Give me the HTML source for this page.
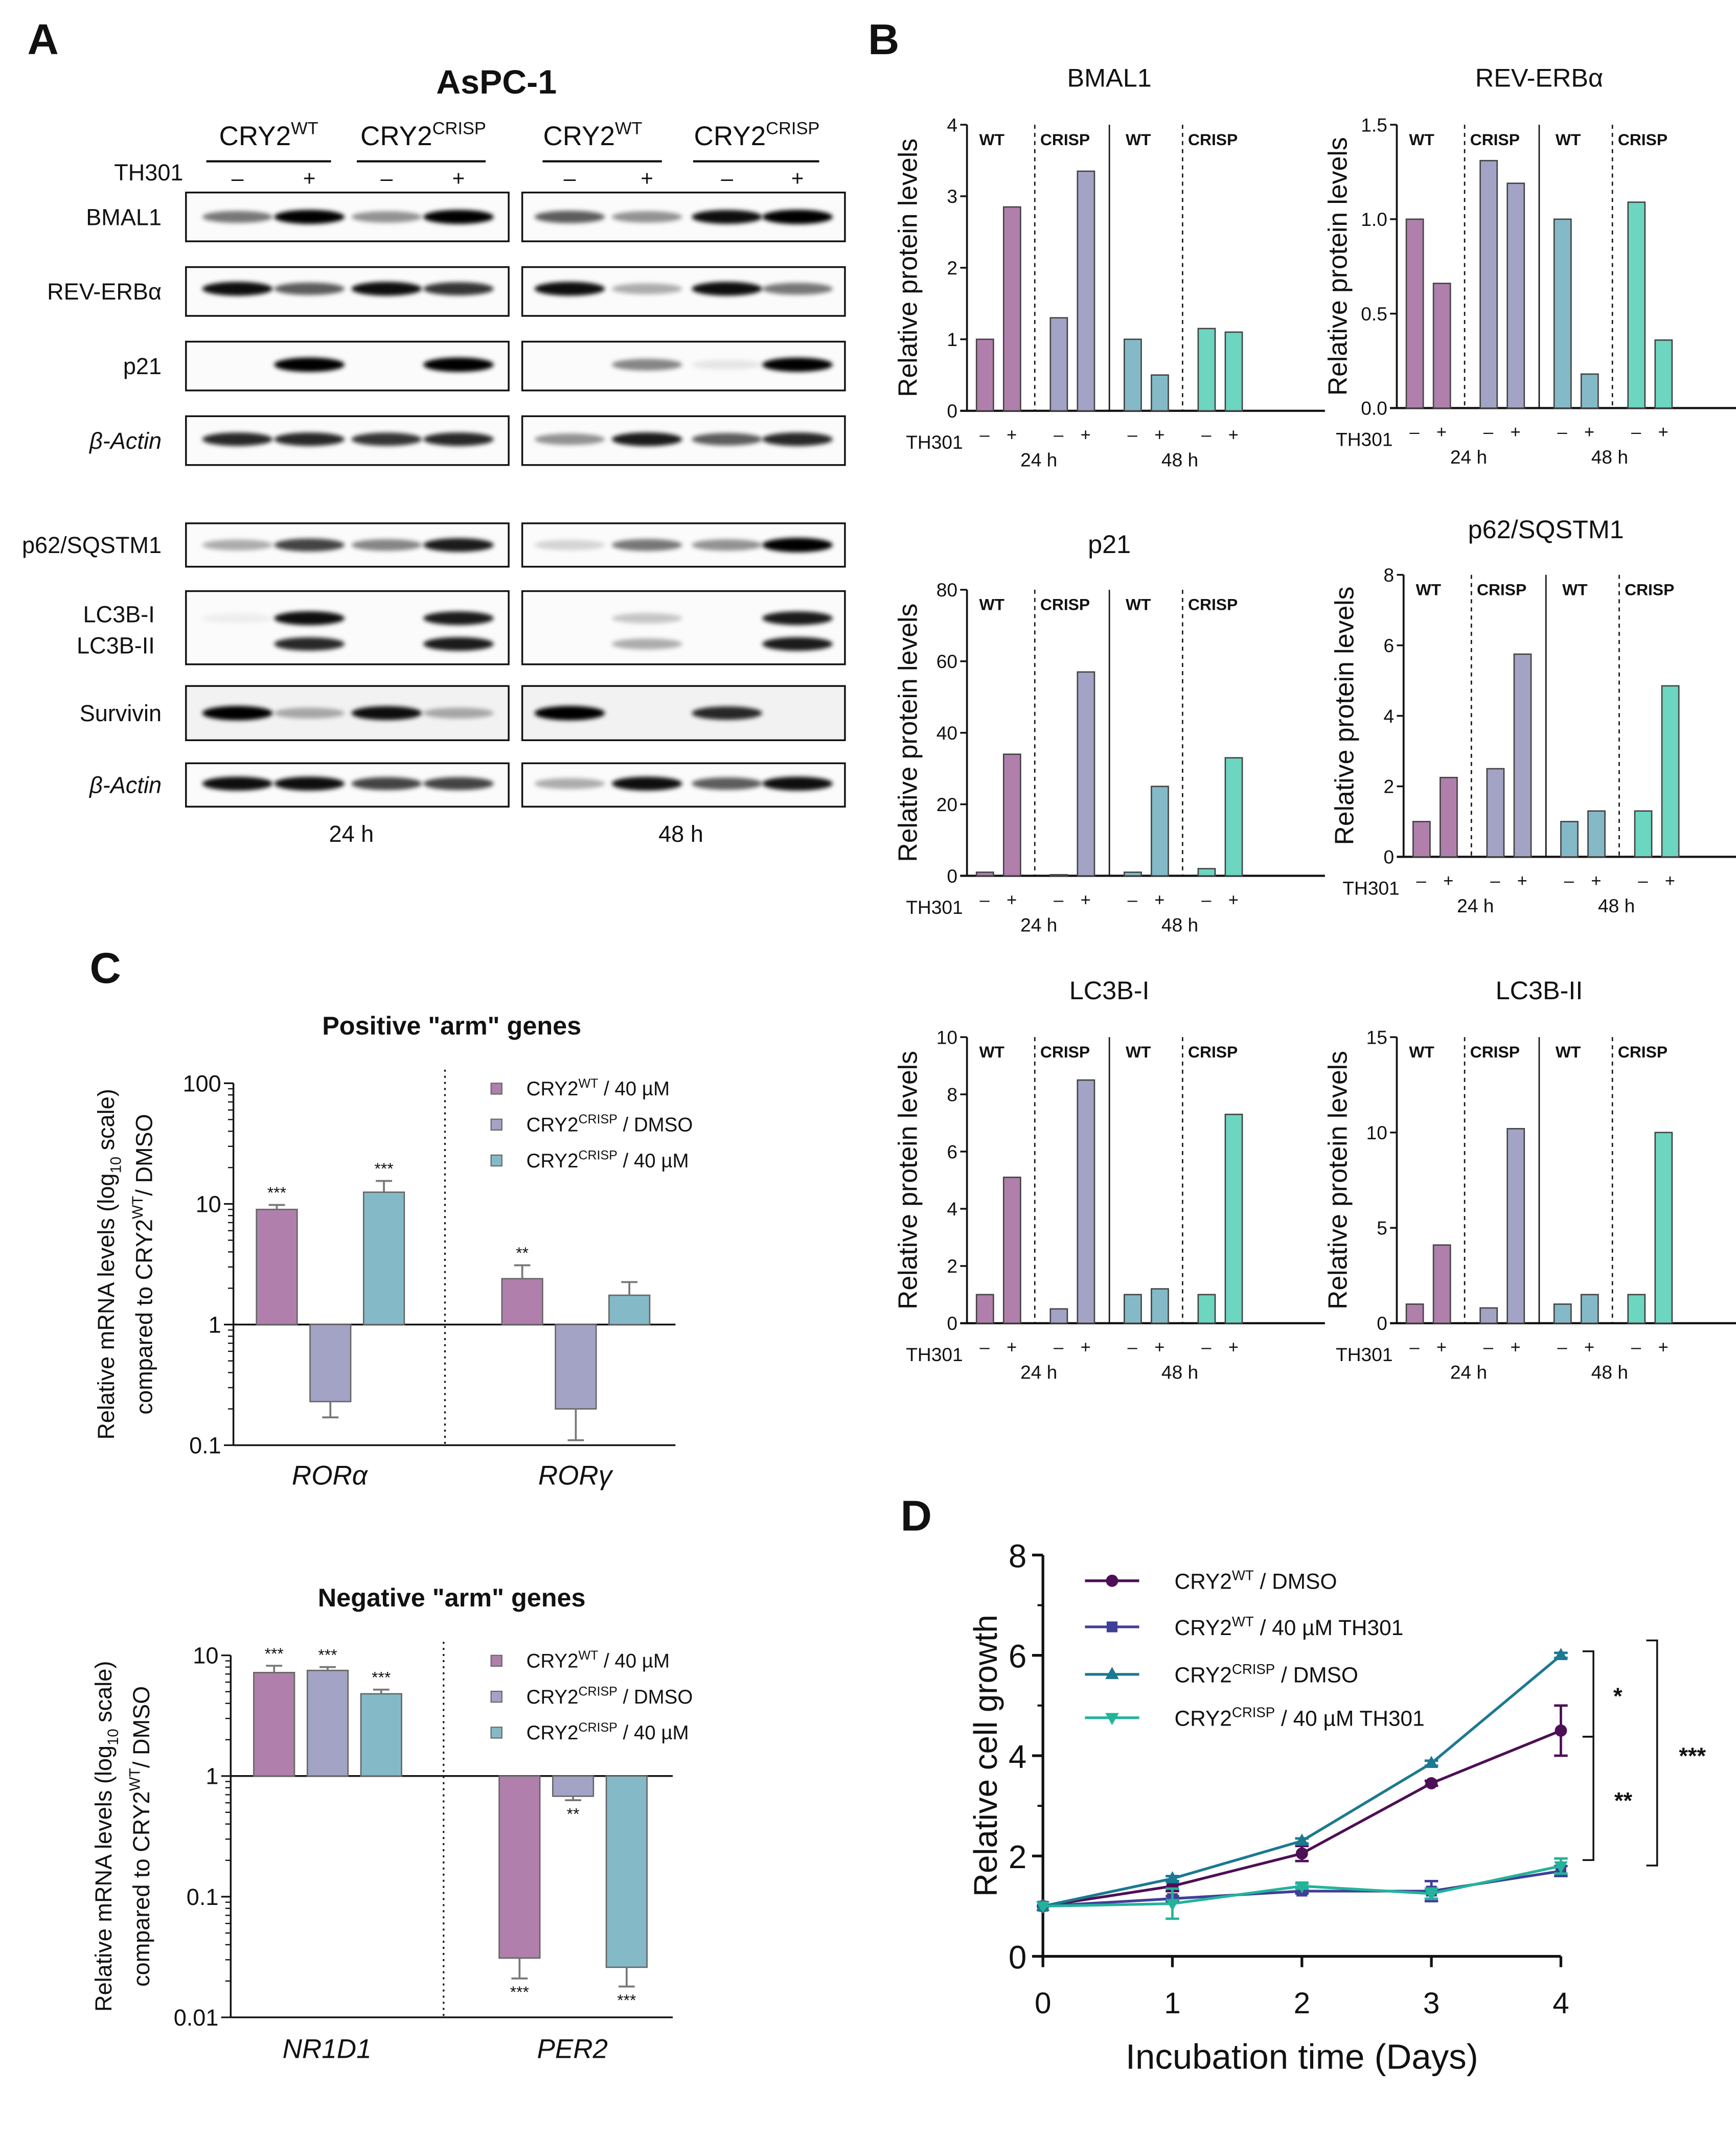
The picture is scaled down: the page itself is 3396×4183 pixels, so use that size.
<!DOCTYPE html>
<html><head><meta charset="utf-8"><style>
html,body{margin:0;padding:0;background:#fff;}
svg{display:block;font-family:"Liberation Sans",Arial,sans-serif;}
</style></head><body>
<svg id="fig" xmlns="http://www.w3.org/2000/svg" width="3396" height="4183" viewBox="0 0 1280 1577">
<defs><filter id="blur" x="-30%" y="-100%" width="160%" height="300%"><feGaussianBlur stdDeviation="1.6"/></filter></defs>
<rect x="0" y="0" width="1280" height="1577" fill="#fff"/>
</svg>
<script>
// ---------- DATA ----------
const bCategories = ["WT 24h -","WT 24h +","CRISP 24h -","CRISP 24h +","WT 48h -","WT 48h +","CRISP 48h -","CRISP 48h +"];
const bmal1Vals = [1, 2.85, 1.3, 3.35, 1, 0.5, 1.15, 1.1];
const reverbVals = [1, 0.66, 1.31, 1.19, 1, 0.18, 1.09, 0.36];
const p21Vals = [1, 34, 0.3, 57, 1, 25, 2, 33];
const p62Vals = [1, 2.25, 2.5, 5.75, 1, 1.3, 1.3, 4.85];
const lc3b1Vals = [1, 5.1, 0.5, 8.5, 1, 1.2, 1, 7.3];
const lc3b2Vals = [1, 4.1, 0.8, 10.2, 1, 1.5, 1.5, 10];
const bmal1Ticks = [0,1,2,3,4];
const reverbTicks = ["0.0","0.5","1.0","1.5"];
const p21Ticks = [0,20,40,60,80];
const p62Ticks = [0,2,4,6,8];
const lc3b1Ticks = [0,2,4,6,8,10];
const lc3b2Ticks = [0,5,10,15];

const posGenes = ["RORα","RORγ"];
const posVals = [[9, 0.23, 12.5],[2.4, 0.2, 1.75]];
const posErr = [[0.8, 0.06, 3],[0.7, 0.09, 0.5]];
const posStars = [["***","","***"],["**","",""]];
const negGenes = ["NR1D1","PER2"];
const negVals = [[7.2, 7.5, 4.8],[0.031, 0.68, 0.026]];
const negErr = [[1.0, 0.5, 0.4],[0.01, 0.05, 0.008]];
const negStars = [["***","***","***"],["***","**","***"]];

const dDays = [0,1,2,3,4];
const dWtDmso = [1, 1.4, 2.05, 3.45, 4.5];
const dWtTh = [1, 1.15, 1.3, 1.3, 1.7];
const dCrDmso = [1, 1.55, 2.3, 3.85, 6.0];
const dCrTh = [1, 1.05, 1.4, 1.25, 1.8];
const dWtDmsoErr = [0, 0.1, 0.15, 0.05, 0.5];
const dWtThErr = [0, 0.05, 0.05, 0.2, 0.1];
const dCrDmsoErr = [0, 0.05, 0.05, 0.05, 0.05];
const dCrThErr = [0, 0.3, 0.05, 0.1, 0.15];
const dYTicks = [0,2,4,6,8];

// ---------- HELPERS ----------
const NS = "http://www.w3.org/2000/svg";
const svg = document.getElementById("fig");
function mk(tag, attrs, parent){
  const e = document.createElementNS(NS, tag);
  for (const k in attrs) e.setAttribute(k, attrs[k]);
  (parent||svg).appendChild(e);
  return e;
}
function txt(x,y,s,size,extra,parent){
  const a = Object.assign({x:x,y:y,"font-size":size,fill:"#111"}, extra||{});
  const t = mk("text", a, parent);
  t.textContent = s;
  return t;
}
function supText(x,y,base,sup,rest,size,anchor,parent){
  const t = mk("text",{x:x,y:y,"font-size":size,fill:"#111","text-anchor":anchor||"start"},parent);
  const a = mk("tspan",{},t); a.textContent = base;
  const b = mk("tspan",{dy:-size*0.4,"font-size":size*0.65},t); b.textContent = sup;
  const c = mk("tspan",{dy:size*0.4},t); c.textContent = rest;
  return t;
}
const barCols = ["#b07fac","#b07fac","#a3a3c6","#a3a3c6","#84bac8","#84bac8","#6cd6c0","#6cd6c0"];

// ---------- PANEL LETTERS ----------
[["A",20,40],["B",640,40],["C",66,725],["D",664,1129]].forEach(p=>{
  const t = txt(p[1],p[2],p[0],32,{"font-weight":"bold"});
  
  
});

// ---------- PANEL A: BLOTS ----------
const gA = mk("g",{});


txt(366,69,"AsPC-1",25,{"font-weight":"bold","text-anchor":"middle"},gA);
supText(198,107,"CRY2","WT","",20,"middle",gA);
supText(312,107,"CRY2","CRISP","",20,"middle",gA);
supText(437,107,"CRY2","WT","",20,"middle",gA);
supText(558,107,"CRY2","CRISP","",20,"middle",gA);
[[152,244],[263,358],[400,488],[511,604]].forEach(s=>mk("line",{x1:s[0],x2:s[1],y1:119,y2:119,stroke:"#111","stroke-width":1.6},gA));
txt(84,133,"TH301",17,{},gA);
const laneX = [175,228,285,338,420,477,536,588];
laneX.forEach((x,i)=>txt(x,137,i%2?"+":"–",16,{"text-anchor":"middle"},gA));
const rows = [
  {name:"BMAL1",y0:142,y1:178,bands:[[160,[.5,.95,.4,.95,.6,.4,.9,1]]]},
  {name:"REV-ERBα",y0:197,y1:233,bands:[[213,[.9,.6,.9,.75,.9,.3,.9,.5]]]},
  {name:"p21",y0:252,y1:288,bands:[[269,[0,1,0,1,0,.45,.08,.95]]]},
  {name:"β-Actin",y0:307,y1:343,bands:[[324,[.8,.8,.75,.8,.4,.85,.6,.8]]],it:true},
  {name:"p62/SQSTM1",y0:386,y1:418,bands:[[402,[.3,.7,.45,.85,.15,.5,.4,1]]]},
  {name:"LC3B",y0:436,y1:490,bands:[[456,[.05,.9,0,.85,0,.2,0,.85]],[475,[0,.8,0,.85,0,.3,0,.85]]]},
  {name:"Survivin",y0:506,y1:546,bands:[[526,[1,.3,.9,.3,1,0,.8,0]]],bg:true},
  {name:"β-Actin",y0:563,y1:595,bands:[[578,[.9,.9,.7,.7,.3,.9,.6,.9]]],it:true}
];
rows.forEach((r,ri)=>{
  [[137,375],[385,623]].forEach((b,bi)=>{
    const rc = mk("rect",{x:b[0],y:r.y0,width:b[1]-b[0],height:r.y1-r.y0,fill:r.bg?"#f2f2f2":"#fbfbfb",stroke:"#111","stroke-width":1.3},gA);
    
    
  });
  r.bands.forEach(bd=>{
    bd[1].forEach((v,li)=>{
      if(v<=0) return;
      const e = mk("ellipse",{cx:laneX[li],cy:bd[0],rx:26,ry:3.5+v*1.8,fill:"#000","fill-opacity":Math.min(1,v*1.05),filter:"url(#blur)"},gA);
      
      
    });
  });
  if(r.name==="LC3B"){
    txt(114,459,"LC3B-I",17,{"text-anchor":"end"},gA);
    txt(114,482,"LC3B-II",17,{"text-anchor":"end"},gA);
  } else {
    txt(119,(r.y0+r.y1)/2+6,r.name,17,{"text-anchor":"end","font-style":r.it?"italic":"normal"},gA);
  }
});
txt(259,621,"24 h",17,{"text-anchor":"middle"},gA);
txt(502,621,"48 h",17,{"text-anchor":"middle"},gA);

// ---------- PANEL B: BAR CHARTS ----------
function barChart(name,title,vals,ticks,max,ax,top,bot,titleY){
  const g = mk("g",{});
  
  
  const ys = v => bot - (v/max)*(bot-top);
  txt(ax+105,titleY,title,19,{"text-anchor":"middle"},g);
  const yt = mk("text",{x:0,y:0,"font-size":19.5,fill:"#111","text-anchor":"middle",transform:`translate(${ax-37},${(top+bot)/2}) rotate(-90)`},g);
  yt.textContent = "Relative protein levels";
  ticks.forEach(t=>{
    const y = ys(parseFloat(t));
    mk("line",{x1:ax-5,x2:ax,y1:y,y2:y,stroke:"#111","stroke-width":1.3},g);
    txt(ax-7,y+5,String(t),14,{"text-anchor":"end"},g);
  });
  mk("line",{x1:ax,x2:ax,y1:top,y2:bot,stroke:"#111","stroke-width":1.4},g);
  mk("line",{x1:ax-5,x2:ax+264,y1:bot,y2:bot,stroke:"#111","stroke-width":1.6},g);
  [[50,true],[105,false],[159,true]].forEach(d=>{
    mk("line",{x1:ax+d[0],x2:ax+d[0],y1:top,y2:bot,stroke:"#111","stroke-width":1,"stroke-dasharray":d[1]?"3,3":"none"},g);
  });
  ["WT","CRISP","WT","CRISP"].forEach((l,i)=>txt(ax+(l==="WT"?9:54)+(i>=2?108:0)+(i===3?1:0),top+15,l,12,{"font-weight":"bold"},g));
  vals.forEach((v,i)=>{
    const grp = Math.floor(i/2);
    const x = ax+7+grp*54.5+(i%2)*20;
    const r = mk("rect",{x:x,y:ys(v),width:12.5,height:bot-ys(v),fill:barCols[i],stroke:"#444","stroke-width":1},g);
    
    
    txt(x+6,bot+22,i%2?"+":"–",13,{"text-anchor":"middle"},g);
  });
  txt(ax-3,bot+28,"TH301",14,{"text-anchor":"end"},g);
  txt(ax+53,bot+41,"24 h",14,{"text-anchor":"middle"},g);
  txt(ax+157,bot+41,"48 h",14,{"text-anchor":"middle"},g);
}
barChart("bmal1","BMAL1",bmal1Vals,bmal1Ticks,4,713,92,303,64);
barChart("reverb","REV-ERBα",reverbVals,reverbTicks,1.5,1030,92,301,64);
barChart("p21","p21",p21Vals,p21Ticks,80,713,435,646,408);
barChart("p62","p62/SQSTM1",p62Vals,p62Ticks,8,1035,424,632,397);
barChart("lc3b1","LC3B-I",lc3b1Vals,lc3b1Ticks,10,713,765,976,737);
barChart("lc3b2","LC3B-II",lc3b2Vals,lc3b2Ticks,15,1030,765,976,737);

// ---------- PANEL C: LOG BAR CHARTS ----------
const cCols = ["#b07fac","#a3a3c6","#84bac8"];
const cLegend = [["CRY2","WT"," / 40 µM"],["CRY2","CRISP"," / DMSO"],["CRY2","CRISP"," / 40 µM"]];
function logChart(name,title,titleY,genes,vals,errs,stars,ax,decMin,decMax,yTop,yBot,sep,barX,legY){
  const g = mk("g",{});
  
  
  const dec = decMax-decMin;
  const ys = v => yBot - (Math.log10(v)-decMin)/dec*(yBot-yTop);
  const y1 = ys(1);
  txt(333,titleY,title,19,{"font-weight":"bold","text-anchor":"middle"},g);
  const cy=(yTop+yBot)/2;
  const t1 = mk("text",{x:0,y:0,"font-size":17,fill:"#111","text-anchor":"middle",transform:`translate(${ax-88},${cy}) rotate(-90)`},g);
  const a1=mk("tspan",{},t1); a1.textContent="Relative mRNA levels (log";
  const a2=mk("tspan",{dy:5,"font-size":11},t1); a2.textContent="10";
  const a3=mk("tspan",{dy:-5},t1); a3.textContent=" scale)";
  const t2 = mk("text",{x:0,y:0,"font-size":17,fill:"#111","text-anchor":"middle",transform:`translate(${ax-60},${cy}) rotate(-90)`},g);
  const b1=mk("tspan",{},t2); b1.textContent="compared to CRY2";
  const b2=mk("tspan",{dy:-7,"font-size":11},t2); b2.textContent="WT";
  const b3=mk("tspan",{dy:7},t2); b3.textContent="/ DMSO";
  for(let d=decMin; d<=decMax; d++){
    const v = Math.pow(10,d);
    const y = ys(v);
    mk("line",{x1:ax-7,x2:ax,y1:y,y2:y,stroke:"#111","stroke-width":1.2},g);
    txt(ax-9,y+6,d<0?v.toFixed(-d):String(v),17,{"text-anchor":"end"},g);
    if(d<decMax){ for(let m=2;m<10;m++){ const yy=ys(m*v); mk("line",{x1:ax-4,x2:ax,y1:yy,y2:yy,stroke:"#111","stroke-width":0.9},g);} }
  }
  mk("line",{x1:ax,x2:ax,y1:yTop,y2:yBot,stroke:"#111","stroke-width":1.3},g);
  mk("line",{x1:ax,x2:ax+326,y1:y1,y2:y1,stroke:"#111","stroke-width":1.3},g);
  mk("line",{x1:ax,x2:ax+326,y1:yBot,y2:yBot,stroke:"#111","stroke-width":1.3},g);
  mk("line",{x1:sep,x2:sep,y1:yTop-10,y2:yBot,stroke:"#111","stroke-width":1.2,"stroke-dasharray":"1.5,3"},g);
  genes.forEach((gn,gi)=>{
    vals[gi].forEach((v,si)=>{
      const x = barX[gi]+si*39.5;
      const yv = ys(v);
      const up = v>=1;
      const r = mk("rect",{x:x,y:Math.min(yv,y1),width:30,height:Math.abs(y1-yv),fill:cCols[si],stroke:"#666","stroke-width":1},g);
      
      
      const ye = up ? ys(v+errs[gi][si]) : ys(Math.max(v-errs[gi][si],1e-6));
      mk("line",{x1:x+15,x2:x+15,y1:yv,y2:ye,stroke:"#777","stroke-width":1.4},g);
      mk("line",{x1:x+9,x2:x+21,y1:ye,y2:ye,stroke:"#777","stroke-width":1.4},g);
      const s = stars[gi][si];
      if(s) txt(x+15,up?ye-5:ye+14,s,12,{"text-anchor":"middle"},g);
    });
    txt(barX[gi]+54,name==="positive"?1095:1518,gn,20,{"text-anchor":"middle","font-style":"italic"},g);
  });
  cLegend.forEach((l,i)=>{
    const y = legY+i*26.5;
    mk("rect",{x:362,y:y-8,width:8,height:8,fill:cCols[i],stroke:"#666","stroke-width":0.8},g);
    const t = supText(388,y+1,l[0],l[1],l[2],14.5,"start",g);
    
    
  });
}
logChart("positive",'Positive "arm" genes',763,posGenes,posVals,posErr,posStars,172,-1,2,799,1066,328,[189,370],807);
logChart("negative",'Negative "arm" genes',1185,negGenes,negVals,negErr,negStars,170,-2,1,1221,1488,327,[187,368],1229);

// ---------- PANEL D: LINE CHART ----------
const gD = mk("g",{});


const dx = d => 769 + d*(1151-769)/4;
const dy = v => 1443 - v*(1443-1147)/8;
mk("line",{x1:769,x2:769,y1:1147,y2:1443,stroke:"#111","stroke-width":2},gD);
mk("line",{x1:769,x2:1151,y1:1443,y2:1443,stroke:"#111","stroke-width":2},gD);
dYTicks.forEach(v=>{ const y=dy(v); mk("line",{x1:761,x2:769,y1:y,y2:y,stroke:"#111","stroke-width":2},gD); txt(757,y+9,String(v),24,{"text-anchor":"end"},gD);
  if(v<8){ const ym=dy(v+1); mk("line",{x1:765,x2:769,y1:ym,y2:ym,stroke:"#111","stroke-width":1.5},gD);} });
dDays.forEach(d=>{ const x=dx(d); mk("line",{x1:x,x2:x,y1:1443,y2:1451,stroke:"#111","stroke-width":2},gD); txt(x,1485,String(d),22,{"text-anchor":"middle"},gD);});
txt(960,1526,"Incubation time (Days)",26,{"text-anchor":"middle"},gD);
const yl = mk("text",{x:0,y:0,"font-size":24,fill:"#111","text-anchor":"middle",transform:"translate(735,1295) rotate(-90)"},gD);
yl.textContent = "Relative cell growth";
const series = [
  {name:"wt-dmso",vals:dWtDmso,err:dWtDmsoErr,col:"#4d0f55",mark:"circle",leg:["CRY2","WT"," / DMSO"]},
  {name:"wt-th301",vals:dWtTh,err:dWtThErr,col:"#3f3f98",mark:"square",leg:["CRY2","WT"," / 40 µM TH301"]},
  {name:"crisp-dmso",vals:dCrDmso,err:dCrDmsoErr,col:"#1b7990",mark:"tri",leg:["CRY2","CRISP"," / DMSO"]},
  {name:"crisp-th301",vals:dCrTh,err:dCrThErr,col:"#22b39a",mark:"itri",leg:["CRY2","CRISP"," / 40 µM TH301"]}
];
function marker(x,y,m,col,g){
  if(m==="circle") return mk("circle",{cx:x,cy:y,r:4.5,fill:col},g);
  if(m==="square") return mk("rect",{x:x-4,y:y-4,width:8,height:8,fill:col},g);
  if(m==="tri") return mk("polygon",{points:`${x},${y-5.5} ${x-5},${y+3.5} ${x+5},${y+3.5}`,fill:col},g);
  return mk("polygon",{points:`${x},${y+5.5} ${x-5},${y-3.5} ${x+5},${y-3.5}`,fill:col},g);
}
series.forEach((s,si)=>{
  const g = mk("g",{});
  gD.appendChild(g);
  
  
  const pts = s.vals.map((v,i)=>dx(dDays[i])+","+dy(v)).join(" ");
  mk("polyline",{points:pts,fill:"none",stroke:s.col,"stroke-width":2},g);
  s.vals.forEach((v,i)=>{
    const x=dx(dDays[i]);
    if(s.err[i]>0){
      const ya=dy(v+s.err[i]), yb=dy(v-s.err[i]);
      mk("line",{x1:x,x2:x,y1:ya,y2:yb,stroke:s.col,"stroke-width":1.8},g);
      mk("line",{x1:x-5,x2:x+5,y1:ya,y2:ya,stroke:s.col,"stroke-width":1.8},g);
      mk("line",{x1:x-5,x2:x+5,y1:yb,y2:yb,stroke:s.col,"stroke-width":1.8},g);
    }
    const m = marker(x,dy(v),s.mark,s.col,g);
    
    
  });
  const ly = [1166,1200,1235,1267][si];
  mk("line",{x1:800,x2:840,y1:ly,y2:ly,stroke:s.col,"stroke-width":2},gD);
  marker(820,ly,s.mark,s.col,gD);
  const lt = supText(866,ly+6,s.leg[0],s.leg[1],s.leg[2],16,"start",gD);
  
  
});
// significance brackets
[[1218,1281,1175],[1281,1372,1175],[1210,1376,1222]].forEach(b=>{
  mk("polyline",{points:`${b[2]-8},${b[0]} ${b[2]},${b[0]} ${b[2]},${b[1]} ${b[2]-8},${b[1]}`,fill:"none",stroke:"#111","stroke-width":1.3},gD);
});
txt(1193,1257,"*",17,{"font-weight":"bold","text-anchor":"middle"},gD);
txt(1197,1334,"**",17,{"font-weight":"bold","text-anchor":"middle"},gD);
txt(1248,1301,"***",17,{"font-weight":"bold","text-anchor":"middle"},gD);
</script>
</body></html>
